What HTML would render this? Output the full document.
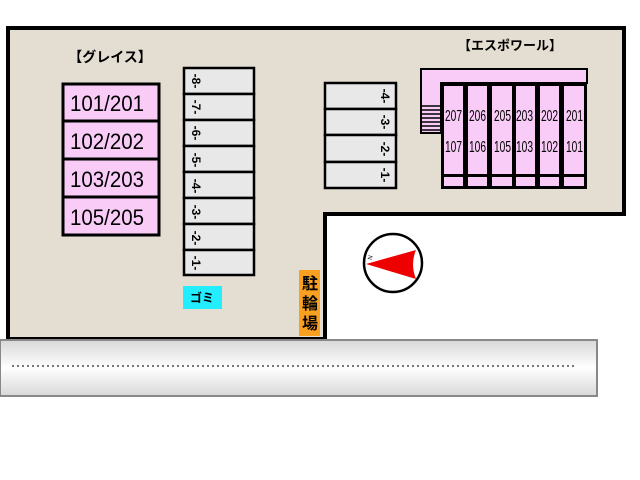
<!DOCTYPE html>
<html><head><meta charset="utf-8"><style>
html,body{margin:0;padding:0;background:#fff;width:640px;height:480px;overflow:hidden}
svg text{font-family:"Liberation Sans","Noto Sans CJK JP",sans-serif}
</style></head><body>
<svg width="640" height="480" viewBox="0 0 640 480" xmlns="http://www.w3.org/2000/svg">
<defs>
<linearGradient id="rd" x1="0" y1="0" x2="0" y2="1">
<stop offset="0" stop-color="#d8d8d8"/><stop offset="0.5" stop-color="#ffffff"/><stop offset="1" stop-color="#d8d8d8"/>
</linearGradient>
</defs>
<polygon points="8,28 624,28 624,214 325,214 325,339 8,339" fill="#e3ddd2" stroke="#000" stroke-width="4"/>
<rect x="0" y="340" width="597" height="56" fill="url(#rd)" stroke="#888" stroke-width="2"/>
<line x1="12" y1="366" x2="576" y2="366" stroke="#777" stroke-width="2" stroke-dasharray="2,3"/>
<text x="110" y="62" font-size="14" font-weight="bold" text-anchor="middle">【グレイス】</text>
<g fill="#f8ccf6" stroke="#000" stroke-width="3">
<rect x="63" y="84" width="96" height="37"/><rect x="63" y="121" width="96" height="38"/>
<rect x="63" y="159" width="96" height="38"/><rect x="63" y="197" width="96" height="38"/>
</g>
<g font-size="22">
<text x="70" y="111" textLength="74" lengthAdjust="spacingAndGlyphs">101/201</text>
<text x="70" y="149" textLength="74" lengthAdjust="spacingAndGlyphs">102/202</text>
<text x="70" y="187" textLength="74" lengthAdjust="spacingAndGlyphs">103/203</text>
<text x="70" y="225" textLength="74" lengthAdjust="spacingAndGlyphs">105/205</text>
</g>
<g fill="#e8e8e8" stroke="#000" stroke-width="2.5">
<rect x="184" y="68" width="70" height="26"/><rect x="184" y="94" width="70" height="26"/><rect x="184" y="120" width="70" height="26"/><rect x="184" y="146" width="70" height="26"/><rect x="184" y="172" width="70" height="26"/><rect x="184" y="198" width="70" height="26"/><rect x="184" y="224" width="70" height="26"/><rect x="184" y="250" width="70" height="25"/>
<rect x="325" y="83" width="71" height="26"/><rect x="325" y="109" width="71" height="26"/><rect x="325" y="135" width="71" height="27"/><rect x="325" y="162" width="71" height="26"/>
</g>
<g font-size="12" font-weight="bold" text-anchor="middle">
<text transform="translate(192,81) rotate(90)">-8-</text><text transform="translate(192,107) rotate(90)">-7-</text><text transform="translate(192,133) rotate(90)">-6-</text><text transform="translate(192,160) rotate(90)">-5-</text><text transform="translate(192,186) rotate(90)">-4-</text><text transform="translate(192,212) rotate(90)">-3-</text><text transform="translate(192,238) rotate(90)">-2-</text><text transform="translate(192,263) rotate(90)">-1-</text>
<text transform="translate(381,96) rotate(90)">-4-</text><text transform="translate(381,122) rotate(90)">-3-</text><text transform="translate(381,149) rotate(90)">-2-</text><text transform="translate(381,175) rotate(90)">-1-</text>
</g>
<text x="510" y="50" font-size="13" font-weight="bold" text-anchor="middle">【エスポワール】</text>
<polygon points="421,69 587,69 587,83 441,83 441,133 421,133" fill="#f8ccf6" stroke="#000" stroke-width="2"/>
<g stroke="#000" stroke-width="1.5"><line x1="422" y1="106" x2="440" y2="106"/><line x1="422" y1="110" x2="440" y2="110"/><line x1="422" y1="114" x2="440" y2="114"/><line x1="422" y1="118" x2="440" y2="118"/><line x1="422" y1="122" x2="440" y2="122"/><line x1="422" y1="126" x2="440" y2="126"/><line x1="422" y1="130" x2="440" y2="130"/></g>
<rect x="441" y="83" width="146" height="106" fill="#000"/>
<g fill="#f8ccf6">
<rect x="444" y="86" width="19" height="88"/><rect x="468" y="86" width="19" height="88"/><rect x="492" y="86" width="20" height="88"/><rect x="516" y="86" width="19" height="88"/><rect x="540" y="86" width="19" height="88"/><rect x="564" y="86" width="20" height="88"/>
<rect x="444" y="177" width="19" height="9"/><rect x="468" y="177" width="19" height="9"/><rect x="492" y="177" width="20" height="9"/><rect x="516" y="177" width="19" height="9"/><rect x="540" y="177" width="19" height="9"/><rect x="564" y="177" width="20" height="9"/>
</g>
<g font-size="16">
<text x="445" y="121" textLength="17" lengthAdjust="spacingAndGlyphs">207</text><text x="469" y="121" textLength="17" lengthAdjust="spacingAndGlyphs">206</text><text x="494" y="121" textLength="17" lengthAdjust="spacingAndGlyphs">205</text><text x="516" y="121" textLength="17" lengthAdjust="spacingAndGlyphs">203</text><text x="541" y="121" textLength="17" lengthAdjust="spacingAndGlyphs">202</text><text x="566" y="121" textLength="17" lengthAdjust="spacingAndGlyphs">201</text>
<text x="445" y="152" textLength="17" lengthAdjust="spacingAndGlyphs">107</text><text x="469" y="152" textLength="17" lengthAdjust="spacingAndGlyphs">106</text><text x="494" y="152" textLength="17" lengthAdjust="spacingAndGlyphs">105</text><text x="516" y="152" textLength="17" lengthAdjust="spacingAndGlyphs">103</text><text x="541" y="152" textLength="17" lengthAdjust="spacingAndGlyphs">102</text><text x="566" y="152" textLength="17" lengthAdjust="spacingAndGlyphs">101</text>
</g>
<circle cx="393" cy="263" r="29" fill="#fff" stroke="#000" stroke-width="2.5"/>
<path d="M366,264 L416,250 Q410,264 416,279 Z" fill="#e00"/>
<text transform="translate(372,258) rotate(-75)" font-size="6" text-anchor="middle">N</text>
<rect x="183" y="286" width="39" height="23" fill="#22eeff"/>
<text x="202" y="302" font-size="12" font-weight="bold" text-anchor="middle">ゴミ</text>
<rect x="299" y="270" width="21" height="66" fill="#f9a020"/>
<g font-size="16" font-weight="bold" text-anchor="middle"><text x="310" y="289">駐</text><text x="310" y="309">輪</text><text x="310" y="329">場</text></g>
</svg>
</body></html>
